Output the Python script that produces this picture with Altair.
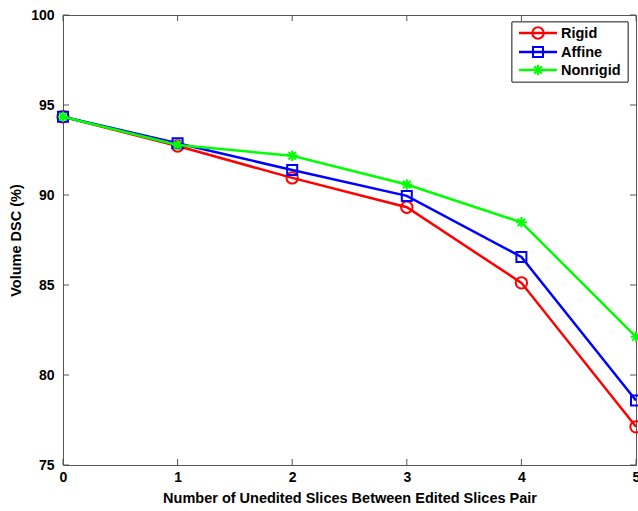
import altair as alt
import pandas as pd

x_vals = [0, 1, 2, 3, 4, 5]
rigid = [94.35, 92.72, 90.95, 89.32, 85.12, 77.12]
affine = [94.35, 92.87, 91.39, 89.95, 86.56, 78.58]
nonrigid = [94.35, 92.78, 92.18, 90.58, 88.48, 82.12]
series_names = ["Rigid", "Affine", "Nonrigid"]
series_colors = ["#ff0000", "#0000ff", "#00ff00"]
y_ticks = [75, 80, 85, 90, 95, 100]
x_ticks = [0, 1, 2, 3, 4, 5]

W, H = 573, 450
FONT = "Liberation Sans"
ASTER = "M-1,0L1,0M0,-1L0,1M-0.72,-0.72L0.72,0.72M-0.72,0.72L0.72,-0.72"
shapes = ["circle", "square", ASTER]
sizes = [130, 100, 110]

rows = []
for name, vals in zip(series_names, [rigid, affine, nonrigid]):
    for xv, yv in zip(x_vals, vals):
        rows.append({"x": xv, "y": yv, "series": name})
df = pd.DataFrame(rows)

xs = alt.Scale(domain=[0, 5], nice=False, zero=False)
ys = alt.Scale(domain=[75, 100], nice=False, zero=False)

x_axis = alt.Axis(values=x_ticks, format="d", tickSize=0, labelPadding=5, grid=False, domain=False,
                  labelFont=FONT, labelFontSize=14, labelFontWeight="bold", labelColor="black",
                  title="Number of Unedited Slices Between Edited Slices Pair",
                  titleFont=FONT, titleFontSize=14.5, titleFontWeight="bold", titleColor="black",
                  titlePadding=7, labelFlush=False)
y_axis = alt.Axis(values=y_ticks, format="d", tickSize=0, labelPadding=9, grid=False, domain=False,
                  labelFont=FONT, labelFontSize=14, labelFontWeight="bold", labelColor="black",
                  title="Volume DSC (%)", titleFont=FONT, titleFontSize=14.5,
                  titleFontWeight="bold", titleColor="black", titlePadding=7, labelFlush=False)

layers = []
base_axes = alt.Chart(df).mark_point(opacity=0).encode(
    x=alt.X("x:Q", scale=xs, axis=x_axis),
    y=alt.Y("y:Q", scale=ys, axis=y_axis),
)
layers.append(base_axes)

for name, col, shp, sz in zip(series_names, series_colors, shapes, sizes):
    sub = alt.Chart(df).transform_filter(alt.datum.series == name)
    layers.append(sub.mark_line(color=col, strokeWidth=2.5).encode(
        x=alt.X("x:Q", scale=xs), y=alt.Y("y:Q", scale=ys)))
    layers.append(sub.mark_point(shape=shp, color=col, filled=False, strokeWidth=2, size=sz, opacity=1).encode(
        x=alt.X("x:Q", scale=xs), y=alt.Y("y:Q", scale=ys)))

# inward ticks
ytick_df = pd.DataFrame({"v": y_ticks})
xtick_df = pd.DataFrame({"v": x_ticks})
tick_col = "#555555"
layers.append(alt.Chart(ytick_df).mark_rule(color=tick_col, strokeWidth=1).encode(
    y=alt.Y("v:Q", scale=ys), x=alt.value(0), x2=alt.value(6)))
layers.append(alt.Chart(ytick_df).mark_rule(color=tick_col, strokeWidth=1).encode(
    y=alt.Y("v:Q", scale=ys), x=alt.value(W - 6), x2=alt.value(W)))
layers.append(alt.Chart(xtick_df).mark_rule(color=tick_col, strokeWidth=1).encode(
    x=alt.X("v:Q", scale=xs), y=alt.value(H - 6), y2=alt.value(H)))
layers.append(alt.Chart(xtick_df).mark_rule(color=tick_col, strokeWidth=1).encode(
    x=alt.X("v:Q", scale=xs), y=alt.value(0), y2=alt.value(6)))

# legend
legend_df = pd.DataFrame({"series": series_names})
LX0, LX1, LY0, LY1 = 449, 565, 7, 67
layers.append(alt.Chart(legend_df).mark_rect(fill="white", stroke="#555555", strokeWidth=1).encode(
    x=alt.value(LX0), x2=alt.value(LX1), y=alt.value(LY0), y2=alt.value(LY1)))
row_y = [18, 37, 55]
for i, (name, col, shp, sz) in enumerate(zip(series_names, series_colors, shapes, sizes)):
    one = alt.Chart(legend_df).transform_filter(alt.datum.series == name)
    yy = row_y[i]
    layers.append(one.mark_rule(color=col, strokeWidth=2.5).encode(
        x=alt.value(456), x2=alt.value(494), y=alt.value(yy)))
    layers.append(one.mark_point(shape=shp, color=col, filled=False, strokeWidth=2, size=sz, opacity=1).encode(
        x=alt.value(475), y=alt.value(yy)))
    layers.append(one.mark_text(align="left", baseline="middle", font=FONT, fontSize=14.5,
                                fontWeight="bold", color="black").encode(
        x=alt.value(498), y=alt.value(yy + 1), text="series:N"))

chart = alt.layer(*layers).properties(
    width=W, height=H,
    autosize=alt.AutoSizeParams(type="none"),
    padding={"left": 63, "top": 15, "right": 2, "bottom": 46},
    background="white",
).configure_view(stroke="#555555", strokeWidth=1)

chart.save("out.html", embed_options={"renderer": "svg", "actions": False})
